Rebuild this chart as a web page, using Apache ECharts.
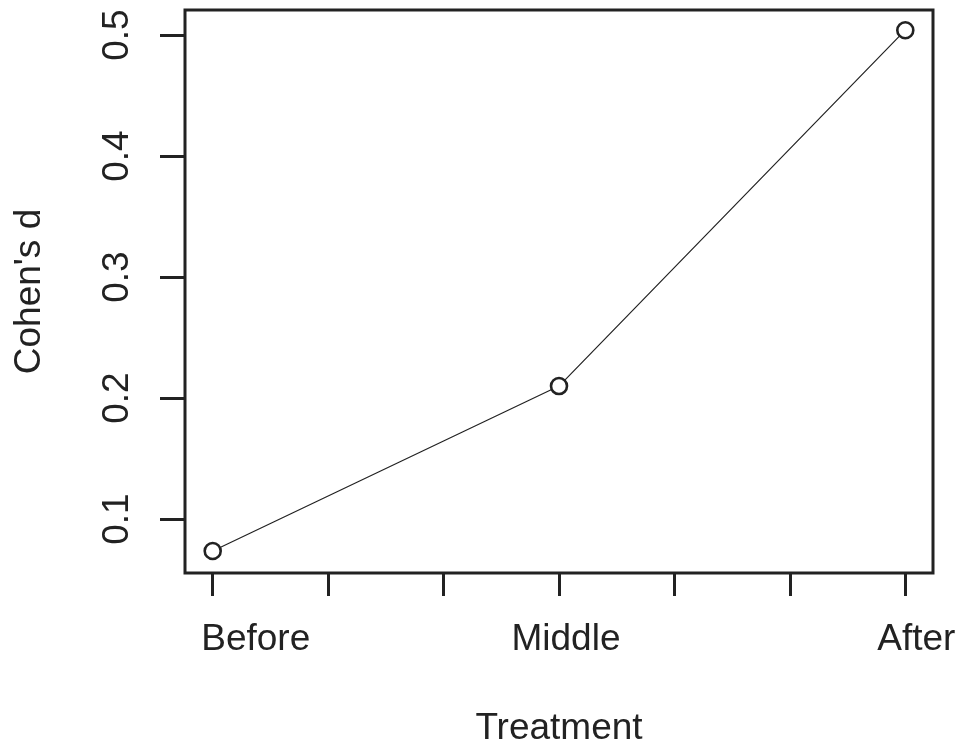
<!DOCTYPE html>
<html>
<head>
<meta charset="utf-8">
<script src="https://cdn.jsdelivr.net/npm/echarts@6/dist/echarts.min.js"></script>
<style>html,body{margin:0;padding:0;background:#fff}#c{width:962px;height:748px}</style>
</head>
<body>
<div id="c"></div>
<script>
const categories = ["Before", "Middle", "After"];
const xPositions = [1, 2, 3];
const cohensD = [0.0736, 0.2099, 0.504];
const xTickValues = [1, 4/3, 5/3, 2, 7/3, 8/3, 3];
const yTickValues = [0.1, 0.2, 0.3, 0.4, 0.5];
const yTickLabels = ["0.1", "0.2", "0.3", "0.4", "0.5"];

const ink = '#222';
const font = 'Liberation Sans, Arial, sans-serif';
const labelStyleNames = ['l0', 'l1', 'l2'];
const chart = echarts.init(document.getElementById('c'));
chart.setOption({
  animation: false,
  backgroundColor: '#fff',
  grid: { left: 185, right: 29, top: 10, bottom: 175, outerBoundsMode: 'none', containLabel: false,
    show: true, borderColor: ink, borderWidth: 3, backgroundColor: 'transparent' },
  xAxis: {
    type: 'value', min: 0.92, max: 3.08,
    name: 'Treatment', nameLocation: 'middle', nameGap: 137,
    nameTextStyle: { fontFamily: font, fontSize: 37, color: ink },
    axisLine: { show: false },
    splitLine: { show: false },
    axisTick: { show: true, length: 23, lineStyle: { color: ink, width: 3 }, customValues: xTickValues },
    axisLabel: { show: true, margin: 48, fontFamily: font, fontSize: 37, color: ink,
      customValues: xPositions,
      rich: {
        l0: { fontFamily: font, fontSize: 37, color: ink, padding: [0, 0, 0, 86] },
        l1: { fontFamily: font, fontSize: 37, color: ink, padding: [0, 0, 0, 14] },
        l2: { fontFamily: font, fontSize: 37, color: ink, padding: [0, 0, 0, 22] }
      },
      formatter: v => { const i = xPositions.indexOf(Math.round(v)); return i >= 0 ? '{' + labelStyleNames[i] + '|' + categories[i] + '}' : ''; } }
  },
  yAxis: {
    type: 'value', min: 0.0554, max: 0.5207,
    name: "Cohen's d", nameLocation: 'middle', nameGap: 137,
    nameTextStyle: { fontFamily: font, fontSize: 37, color: ink },
    axisLine: { show: false },
    splitLine: { show: false },
    axisTick: { show: true, length: 25, lineStyle: { color: ink, width: 3 }, customValues: yTickValues },
    axisLabel: { show: true, rotate: 90, margin: 49, fontFamily: font, fontSize: 37, color: ink,
      customValues: yTickValues,
      formatter: v => { const i = yTickValues.findIndex(t => Math.abs(t - v) < 1e-6); return i >= 0 ? yTickLabels[i] : ''; } }
  },
  series: [{
    type: 'line',
    data: xPositions.map((x, i) => [x, cohensD[i]]),
    symbol: 'circle', symbolSize: 16, showSymbol: true,
    lineStyle: { color: ink, width: 1.2 },
    itemStyle: { color: '#fff', borderColor: ink, borderWidth: 2.6 },
    emphasis: { disabled: true }
  }]
});
</script>
</body>
</html>
